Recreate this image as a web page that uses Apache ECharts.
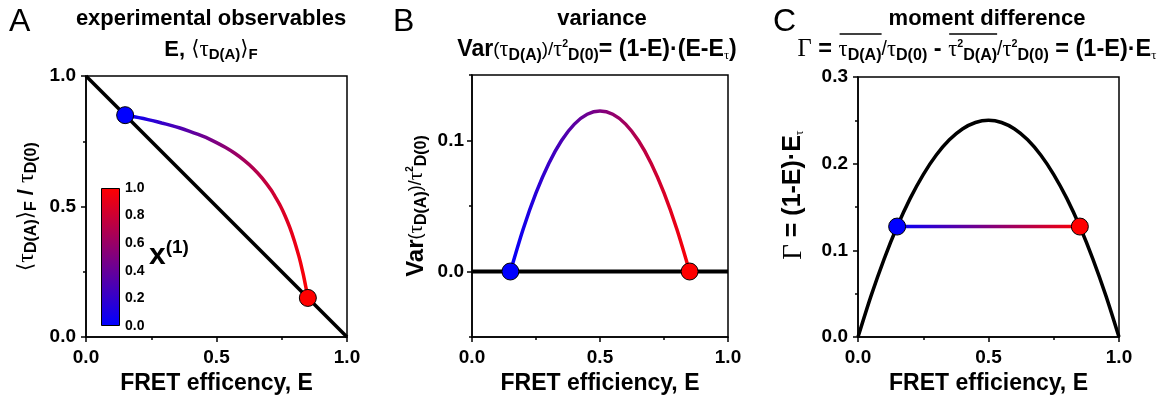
<!DOCTYPE html>
<html><head><meta charset="utf-8">
<script src="https://cdn.jsdelivr.net/npm/echarts@6/dist/echarts.min.js"></script>
<style>html,body{margin:0;padding:0;background:#fff}#c{width:1167px;height:400px}</style>
</head><body><div id="c"></div>
<script>
// ---------- data ----------
const diagE = [0, 1];
const diagTau = [1, 0];
const curveAE = [0.15,0.185,0.22,0.255,0.29,0.325,0.36,0.395,0.43,0.465,0.5,0.535,0.57,0.605,0.64,0.675,0.71,0.7275,0.745,0.7625,0.78,0.7975,0.815,0.822,0.8325,0.8395,0.845,0.85];
const curveATau = [0.85,0.844,0.837,0.829,0.82,0.811,0.801,0.789,0.776,0.762,0.745,0.726,0.704,0.678,0.647,0.609,0.562,0.533,0.502,0.465,0.422,0.371,0.312,0.285,0.240,0.206,0.178,0.15];
const endE = [0.15, 0.85];
const endTauA = [0.85, 0.15];
const varE = [0.15,0.2,0.25,0.3,0.35,0.4,0.45,0.5,0.55,0.6,0.65,0.7,0.75,0.8,0.85];
const varV = [0,0.0325,0.06,0.0825,0.1,0.1125,0.12,0.1225,0.12,0.1125,0.1,0.0825,0.06,0.0325,0];
const zeroE = [0, 1];
const zeroV = [0, 0];
const endVarB = [0, 0];
const gammaE = [0,0.05,0.1,0.15,0.2,0.25,0.3,0.35,0.4,0.45,0.5,0.55,0.6,0.65,0.7,0.75,0.8,0.85,0.9,0.95,1];
const gammaV = [0,0.0475,0.09,0.1275,0.16,0.1875,0.21,0.2275,0.24,0.2475,0.25,0.2475,0.24,0.2275,0.21,0.1875,0.16,0.1275,0.09,0.0475,0];
const gammaLineE = [0.15, 0.85];
const gammaLineV = [0.1275, 0.1275];
const endColors = ['#0000ff', '#ff0000'];
const colorbarMax = [1];
const bMajorTicks = [0, 0.1];
const xNames = ['FRET efficency, E', 'FRET efficiency, E', 'FRET efficiency, E'];

// ---------- helpers ----------
const FONT = 'Liberation Sans';
const SERIF = 'Liberation Serif';
const pair = (xs, ys) => xs.map((x, i) => [x, ys[i]]);
const hgrad = () => new echarts.graphic.LinearGradient(0, 0, 1, 0, [{offset: 0, color: '#0000ff'}, {offset: 1, color: '#ff0000'}]);
const fmt1 = v => v.toFixed(1);

function valAxis(grid, min, max, interval, extra) {
  return Object.assign({
    type: 'value', gridIndex: grid, min: min, max: max, interval: interval,
    axisLine: {show: true, onZero: false, lineStyle: {color: '#000', width: 1.5}},
    axisTick: {show: true, length: 5, lineStyle: {color: '#000', width: 1.5}},
    minorTick: {show: true, splitNumber: 2, length: 3, lineStyle: {color: '#000', width: 1.5}},
    splitLine: {show: false}, minorSplitLine: {show: false},
    axisLabel: {color: '#000', fontFamily: FONT, fontWeight: 'bold', fontSize: 19, margin: 10, formatter: fmt1}
  }, extra || {});
}
const xNameStyle = {color: '#000', fontFamily: FONT, fontWeight: 'bold', fontSize: 23};
const richY = {
  b: {fontFamily: FONT, fontWeight: 'bold', fontSize: 22, color: '#000'},
  a: {fontFamily: 'DejaVu Sans', fontWeight: 'normal', fontSize: 21, color: '#000'},
  t: {fontFamily: SERIF, fontWeight: 'normal', fontSize: 24, color: '#000'},
  s: {fontFamily: FONT, fontWeight: 'bold', fontSize: 16, color: '#000', padding: [11, 0, 0, 0]},
  sp: {fontFamily: FONT, fontWeight: 'bold', fontSize: 10, color: '#000', padding: [0, 0, 12, 0]},
  v: {fontFamily: FONT, fontWeight: 'bold', fontSize: 24, color: '#000'},
  p: {fontFamily: FONT, fontWeight: 'normal', fontSize: 18, color: '#000'},
  tp: {fontFamily: SERIF, fontWeight: 'normal', fontSize: 21, color: '#000'},
  st: {fontFamily: SERIF, fontWeight: 'normal', fontSize: 12, color: '#000', padding: [12, 0, 0, 0]},
  bc: {fontFamily: FONT, fontWeight: 'bold', fontSize: 25, color: '#000'},
  tc: {fontFamily: SERIF, fontWeight: 'normal', fontSize: 27, color: '#000'}
};
const gridStyle = {show: true, borderColor: '#000', borderWidth: 1.5, backgroundColor: 'transparent', containLabel: false};

// zrender rich styles for graphic texts
const Z = {
  b: {fontFamily: FONT, fontWeight: 'bold', fontSize: 22, fill: '#000'},
  a: {fontFamily: 'DejaVu Sans', fontWeight: 'normal', fontSize: 21, fill: '#000'},
  t: {fontFamily: SERIF, fontWeight: 'normal', fontSize: 23, fill: '#000'},
  s: {fontFamily: FONT, fontWeight: 'bold', fontSize: 15, fill: '#000', padding: [10, 0, 0, 0]},
  sp: {fontFamily: FONT, fontWeight: 'bold', fontSize: 10, fill: '#000', padding: [0, 0, 11, 0]},
  p: {fontFamily: FONT, fontWeight: 'normal', fontSize: 18, fill: '#000'},
  tp: {fontFamily: SERIF, fontWeight: 'normal', fontSize: 21, fill: '#000'},
  st: {fontFamily: SERIF, fontWeight: 'normal', fontSize: 12, fill: '#000', padding: [11, 0, 0, 0]},
  x: {fontFamily: FONT, fontWeight: 'bold', fontSize: 30, fill: '#000'},
  xs: {fontFamily: FONT, fontWeight: 'bold', fontSize: 19, fill: '#000', padding: [0, 0, 17, 0]}
};
function scaleRich(r, k) {
  const o = {};
  Object.keys(r).forEach(key => {
    const s = Object.assign({}, r[key]);
    s.fontSize = Math.round(s.fontSize * k * 10) / 10;
    if (s.padding) s.padding = s.padding.map(p => Math.round(p * k));
    o[key] = s;
  });
  return o;
}
const ZB = scaleRich(Z, 1.05);
const ZC = scaleRich(Z, 1.07);
function gtext(x, y, text, align, extra) {
  return {type: 'text', x: x, y: y, z: 10, style: Object.assign({text: text, align: align || 'center', verticalAlign: 'middle', fill: '#000', fontFamily: FONT, fontWeight: 'bold', fontSize: 22, rich: Z}, extra || {})};
}

// subtitle of panel C, with overline groups
const cTitleTokens = [['t','Γ'],['b',' = '],['tp','τ',1],['s','D(A)',1],['p','/'],['tp','τ'],['s','D(0)'],['b',' - '],['tp','τ',2],['sp','2',2],['s','D(A)',2],['p','/'],['tp','τ'],['sp','2'],['s','D(0)'],['b',' = (1-E)·E'],['st','τ']];
const mctx = document.createElement('canvas').getContext('2d');
function tokW(rich, st, txt) {
  const s = rich[st];
  mctx.font = (s.fontWeight || 'normal') + ' ' + s.fontSize + 'px "' + s.fontFamily + '"';
  return mctx.measureText(txt).width;
}
const cCenter = 977, cY = 50;
const cWidths = cTitleTokens.map(t => tokW(ZC, t[0], t[1]));
const cTotal = cWidths.reduce((a, b) => a + b, 0);
let cursor = cCenter - cTotal / 2;
const overRanges = {};
cTitleTokens.forEach((t, i) => {
  if (t[2]) {
    const r = overRanges[t[2]] || (overRanges[t[2]] = [cursor, cursor]);
    r[1] = cursor + cWidths[i];
  }
  cursor += cWidths[i];
});
const overlines = Object.keys(overRanges).map(k => ({type: 'line', z: 10, shape: {x1: overRanges[k][0] + 1, y1: 34, x2: overRanges[k][1], y2: 34}, style: {stroke: '#000', lineWidth: 1.3}}));

const option = {
  animation: false,
  backgroundColor: '#fff',
  grid: [
    Object.assign({left: 86, top: 76, width: 261, height: 263}, gridStyle),
    Object.assign({left: 472, top: 75, width: 256, height: 262}, gridStyle),
    Object.assign({left: 858, top: 77, width: 261, height: 261}, gridStyle),
    {left: 101, top: 188, width: 19, height: 138, show: false}
  ],
  xAxis: [
    valAxis(0, 0, 1, 0.5, {name: xNames[0], nameLocation: 'middle', nameGap: 29, nameTextStyle: xNameStyle}),
    valAxis(1, 0, 1, 0.5, {name: xNames[1], nameLocation: 'middle', nameGap: 29, nameTextStyle: xNameStyle}),
    valAxis(2, 0, 1, 0.5, {name: xNames[2], nameLocation: 'middle', nameGap: 29, nameTextStyle: xNameStyle})
  ].map(a => { a.axisLabel.margin = 11; return a; }).concat([
    {type: 'category', gridIndex: 3, data: ['c'], show: false}
  ]),
  yAxis: [
    valAxis(0, 0, 1, 0.5, {name: '{a|⟨}{t|τ}{s|D(A)}{a|⟩}{s|F}{b| / }{t|τ}{s|D(0)}', nameLocation: 'middle', nameGap: 46, nameRotate: 90, nameTextStyle: {rich: richY}}),
    valAxis(1, -0.05, 0.15, 0.05, {
      minorTick: {show: false},
      axisTick: {show: true, length: 5, customValues: bMajorTicks, lineStyle: {color: '#000', width: 1.5}},
      axisLabel: {color: '#000', fontFamily: FONT, fontWeight: 'bold', fontSize: 19, margin: 8, customValues: bMajorTicks,
        formatter: v => (Math.abs(v) < 1e-9 || Math.abs(v - 0.1) < 1e-9) ? v.toFixed(1) : ''},
      name: '{v|Var}{p|(}{tp|τ}{s|D(A)}{p|)/}{tp|τ}{sp|2}{s|D(0)}', nameLocation: 'middle', nameGap: 42, nameRotate: 90, nameTextStyle: {rich: richY}
    }),
    valAxis(1, -0.05, 0.15, 0.05, {
      position: 'left', minorTick: {show: false}, axisLine: {show: false, onZero: false},
      axisTick: {show: true, length: 3, lineStyle: {color: '#000', width: 1.5}}, axisLabel: {show: false}
    }),
    valAxis(2, 0, 0.3, 0.1, {name: '{tc|Γ}{bc| = (1-E)·E}{st|τ}', nameLocation: 'middle', nameGap: 51, nameRotate: 90, nameTextStyle: {rich: richY, padding: [0, 0, 0, 24]}}),
    {type: 'value', gridIndex: 3, min: 0, max: 1, interval: 0.2, position: 'right',
      axisLine: {show: false}, axisTick: {show: false}, splitLine: {show: false},
      axisLabel: {color: '#000', fontFamily: FONT, fontWeight: 'bold', fontSize: 14, margin: 5, formatter: fmt1}}
  ],
  series: [
    {type: 'line', xAxisIndex: 0, yAxisIndex: 0, data: pair(diagE, diagTau), symbol: 'none', lineStyle: {color: '#000', width: 3.5}, z: 2},
    {type: 'line', xAxisIndex: 0, yAxisIndex: 0, data: pair(curveAE, curveATau), symbol: 'none', smooth: 0.2, lineStyle: {color: hgrad(), width: 3.5}, z: 3},
    {type: 'scatter', xAxisIndex: 0, yAxisIndex: 0, data: pair(endE, endTauA).map((d, i) => ({value: d, itemStyle: {color: endColors[i]}})), symbolSize: 17, itemStyle: {borderColor: '#000', borderWidth: 1, opacity: 1}, z: 4},

    {type: 'line', xAxisIndex: 1, yAxisIndex: 1, data: pair(zeroE, zeroV), symbol: 'none', lineStyle: {color: '#000', width: 4}, z: 2},
    {type: 'line', xAxisIndex: 1, yAxisIndex: 1, data: pair(varE, varV), symbol: 'none', smooth: 0.3, lineStyle: {color: hgrad(), width: 3.5}, z: 3},
    {type: 'scatter', xAxisIndex: 1, yAxisIndex: 1, data: pair(endE, endVarB).map((d, i) => ({value: d, itemStyle: {color: endColors[i]}})), symbolSize: 17, itemStyle: {borderColor: '#000', borderWidth: 1, opacity: 1}, z: 4},

    {type: 'line', xAxisIndex: 2, yAxisIndex: 3, data: pair(gammaE, gammaV), symbol: 'none', smooth: 0.3, lineStyle: {color: '#000', width: 3.5}, z: 2},
    {type: 'line', xAxisIndex: 2, yAxisIndex: 3, data: pair(gammaLineE, gammaLineV), symbol: 'none', lineStyle: {color: hgrad(), width: 3.5}, z: 3},
    {type: 'scatter', xAxisIndex: 2, yAxisIndex: 3, data: pair(endE, gammaLineV).map((d, i) => ({value: d, itemStyle: {color: endColors[i]}})), symbolSize: 17, itemStyle: {borderColor: '#000', borderWidth: 1, opacity: 1}, z: 4},

    {type: 'bar', xAxisIndex: 3, yAxisIndex: 4, data: colorbarMax, barWidth: '100%',
      itemStyle: {borderColor: '#000', borderWidth: 1,
        color: new echarts.graphic.LinearGradient(0, 1, 0, 0, [{offset: 0, color: '#0000ff'}, {offset: 1, color: '#ff0000'}])}}
  ],
  graphic: [
    gtext(9, 22, 'A', 'left', {fontWeight: 'normal', fontSize: 32}),
    gtext(393, 22, 'B', 'left', {fontWeight: 'normal', fontSize: 32}),
    gtext(773, 22, 'C', 'left', {fontWeight: 'normal', fontSize: 32}),
    gtext(211, 19, 'experimental observables', 'center', {fontSize: 22}),
    gtext(602, 19, 'variance', 'center', {fontSize: 22}),
    gtext(987, 19, 'moment difference', 'center', {fontSize: 22}),
    gtext(211, 50, '{b|E, }{a|⟨}{t|τ}{s|D(A)}{a|⟩}{s|F}', 'center'),
    gtext(597, 50, '{b|Var}{p|(}{tp|τ}{s|D(A)}{p|)/}{tp|τ}{sp|2}{s|D(0)}{b|= (1-E)·(E-E}{st|τ}{b|)}', 'center', {rich: ZB}),
    gtext(cCenter, cY, cTitleTokens.map(t => '{' + t[0] + '|' + t[1] + '}').join(''), 'center', {rich: ZC}),
    gtext(149, 256, '{x|x}{xs|(1)}', 'left')
  ].concat(overlines)
};
const chart = echarts.init(document.getElementById('c'));
chart.setOption(option);
</script></body></html>
